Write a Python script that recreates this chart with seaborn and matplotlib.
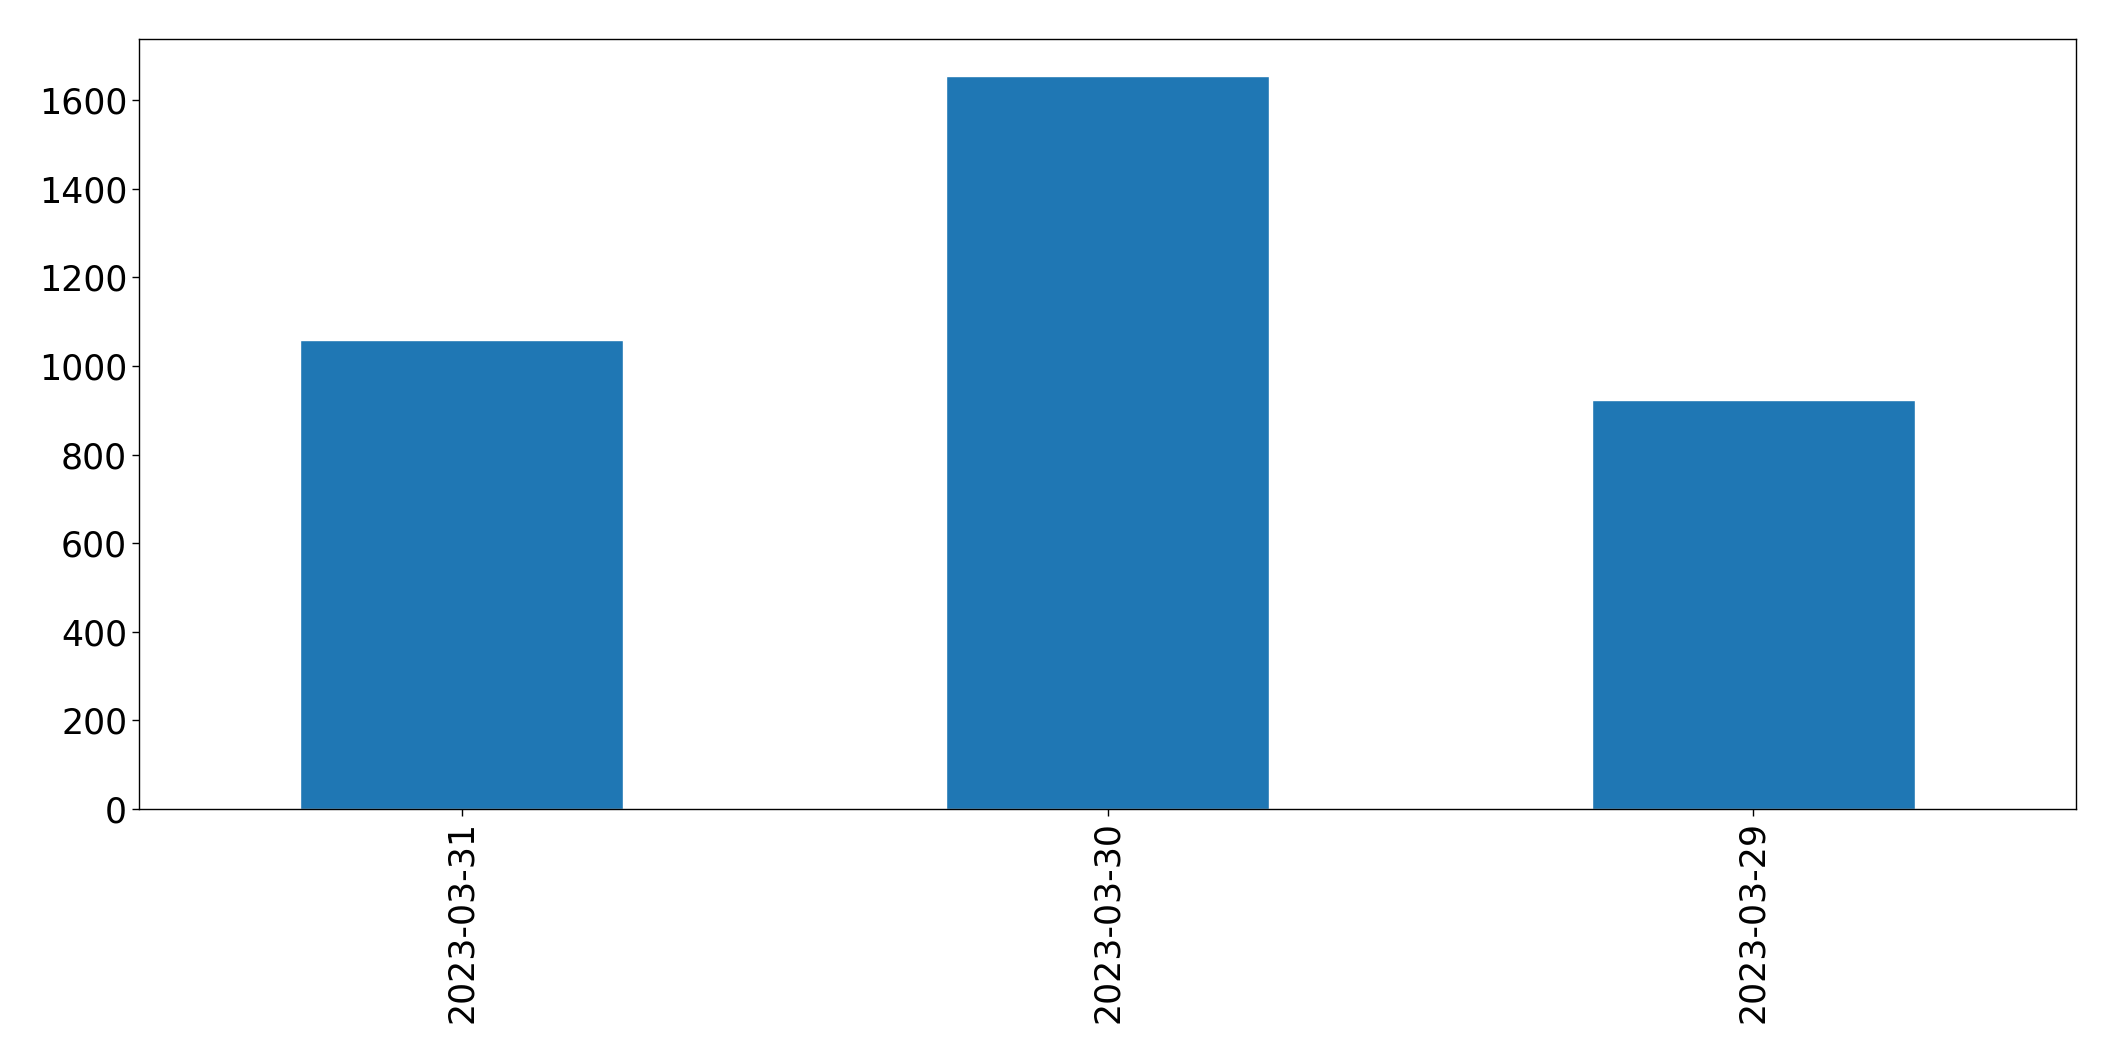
import matplotlib
matplotlib.use("Agg")
import matplotlib.pyplot as plt
import seaborn as sns
import pandas as pd

dates = ["2023-03-31", "2023-03-30", "2023-03-29"]
counts = [1058, 1655, 923]

sns.set_theme(style="ticks")
plt.rcParams['font.family'] = ['DejaVu Sans']
plt.rcParams['text.color'] = 'black'
plt.rcParams['xtick.color'] = 'black'
plt.rcParams['ytick.color'] = 'black'
plt.rcParams['axes.edgecolor'] = 'black'

df = pd.DataFrame({"date": dates, "count": counts})

fig = plt.figure(figsize=(21.15, 10.61), dpi=100)
ax = fig.add_axes([0.0657, 0.2375, 0.9816 - 0.0657, 0.9632 - 0.2375])
sns.barplot(data=df, x="date", y="count", color="#1f77b4", saturation=1,
            width=0.5, ax=ax, order=dates)
ax.set_xlim(-0.5, 2.5)
ax.set_ylim(0, max(counts) * 1.05)
ax.set_xlabel("")
ax.set_ylabel("")
ax.tick_params(axis="both", labelsize=25, length=5, width=1, color="black",
               labelcolor="black")
plt.setp(ax.get_xticklabels(), rotation=90)
for s in ax.spines.values():
    s.set_visible(True)
    s.set_color("black")
    s.set_linewidth(1)
fig.savefig("out.png", dpi=100, facecolor="white")
